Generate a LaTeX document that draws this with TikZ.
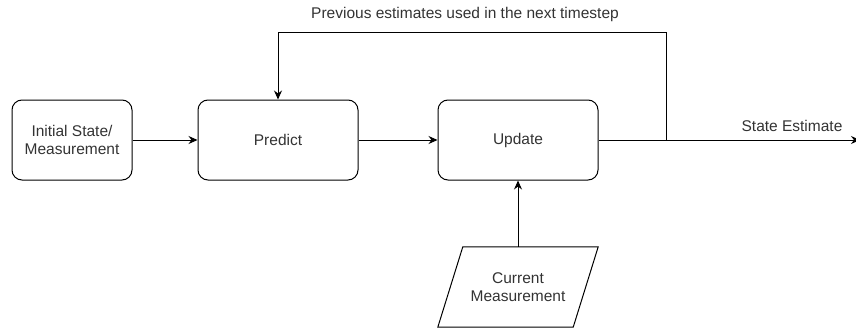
\documentclass[tikz,border=0pt]{standalone}
\usepackage{fontspec}
\setmainfont{Liberation Sans}
\usetikzlibrary{arrows.meta,calc}
\definecolor{txt}{HTML}{333333}
\begin{document}
\begin{tikzpicture}[x=1pt,y=-1pt,
  box/.style={draw=black,line width=1pt,rounded corners=10pt,minimum width=120pt,minimum height=80pt,text=txt,font=\fontsize{15.5}{18}\selectfont,align=center,inner sep=0pt},
  wbox/.style={box,minimum width=160pt},
  lbl/.style={text=txt,font=\fontsize{15.5}{18}\selectfont,inner sep=0pt},
  conn/.style={line width=1pt,-{Stealth[length=9pt,width=8pt]}},
  plain/.style={line width=1pt}]
\useasboundingbox (0,0) rectangle (856,329);
\node[box] (init) at (72,140) {Initial State/\\Measurement};
\node[wbox] (pred) at (278,140) {Predict};
\node[wbox] (upd) at (518,140) {Update};
\node[lbl,align=center,minimum width=130pt,minimum height=80pt] (cm) at (518,287) {Current\\Measurement};
\draw[plain] ($(cm.south west)+(-15,0)$) -- ($(cm.north west)+(10,0)$) -- ($(cm.north east)+(15,0)$) -- ($(cm.south east)+(-10,0)$) -- cycle;
\coordinate (split) at (666,140);
\coordinate (tr) at (666,33);
\coordinate (tl) at (278,33);
\coordinate (out) at (860,140);
\draw[conn] (init) -- (pred);
\draw[conn] (pred) -- (upd);
\draw[conn] (cm.north) -- (upd.south);
\draw[conn] (upd.east) -- (out);
\draw[conn] (split) -- (tr) -- (tl) -- (pred.north);
\node[lbl] (fb) at (465,14) {Previous estimates used in the next timestep};
\node[lbl] (se) at (792,126) {State Estimate};
\end{tikzpicture}
\end{document}
